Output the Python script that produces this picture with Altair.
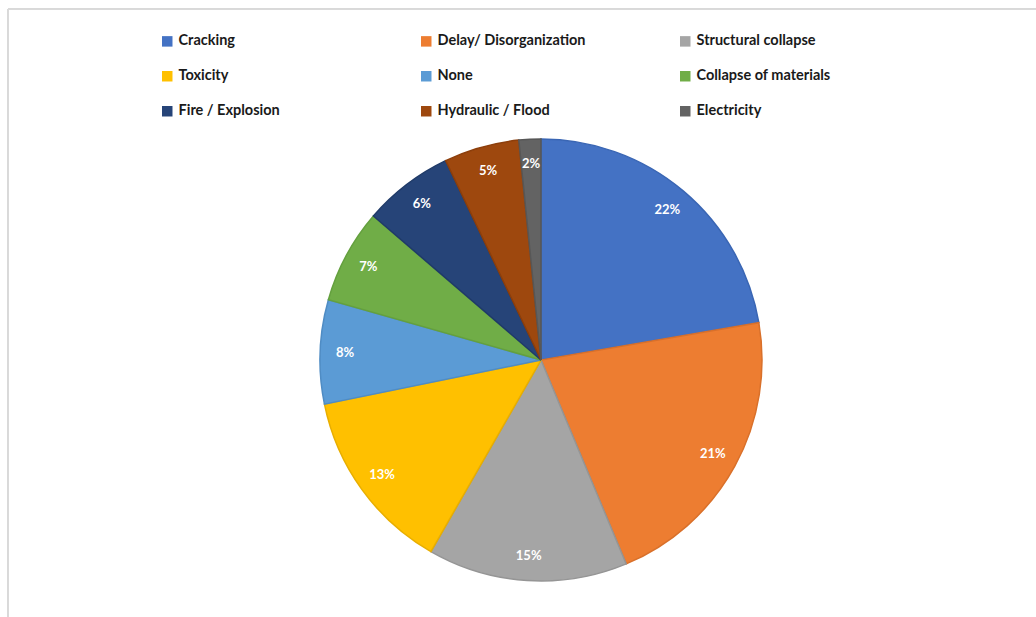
import altair as alt
import pandas as pd

categories = ["Cracking", "Delay/ Disorganization", "Structural collapse",
              "Toxicity", "None", "Collapse of materials",
              "Fire / Explosion", "Hydraulic / Flood", "Electricity"]
shares = [22.3, 21.4, 14.6, 13.5, 7.6, 6.9, 6.6, 5.5, 1.6]
labels = ["22%", "21%", "15%", "13%", "8%", "7%", "6%", "5%", "2%"]
colors = ["#4472C4", "#ED7D31", "#A5A5A5", "#FFC000", "#5B9BD5",
          "#70AD47", "#264478", "#9E480E", "#636363"]
edges = ["#3A66B4", "#D9702A", "#959595", "#E8AE00", "#4F8CC4",
         "#64A03E", "#1F3A68", "#8C3E0B", "#575757"]

df = pd.DataFrame({"cat": categories, "share": shares, "label": labels,
                   "order": list(range(len(categories)))})

# legend fills column by column; reorder so it reads row by row like the original
legend_idx = [0, 3, 6, 1, 4, 7, 2, 5, 8]
leg_domain = [categories[i] for i in legend_idx]
leg_colors = [colors[i] for i in legend_idx]
leg_edges = [edges[i] for i in legend_idx]

W, H = 1028, 608
cx, cy = 533, 351

base = alt.Chart(df).encode(
    theta=alt.Theta("share:Q", stack=True),
    order=alt.Order("order:Q"),
)

pie = base.mark_arc(radius=221, strokeWidth=1.5).encode(
    x=alt.value(cx), y=alt.value(cy),
    color=alt.Color("cat:N", scale=alt.Scale(domain=leg_domain, range=leg_colors),
                    legend=alt.Legend(
                        title=None, orient="none", legendX=152, legendY=25,
                        columns=3, gridAlign="all", columnPadding=92,
                        rowPadding=20, symbolType="square", symbolSize=110,
                        symbolStrokeWidth=0, labelFont="Lato",
                        labelFontWeight="bold", labelFontSize=14.5,
                        labelColor="#1a1a1a", labelOffset=4, labelLimit=300,
                        padding=0)),
    stroke=alt.Stroke("cat:N", scale=alt.Scale(domain=leg_domain, range=leg_edges),
                      legend=None),
)

text = base.mark_text(radius=196, fontSize=13, fontWeight="bold",
                      font="Lato", color="white").encode(
    x=alt.value(cx), y=alt.value(cy),
    text="label:N",
)

frame_top = alt.Chart(df).mark_rule(color="#d9d9d9", strokeWidth=1).encode(
    x=alt.value(0), x2=alt.value(W), y=alt.value(0))
frame_left = alt.Chart(df).mark_rule(color="#d9d9d9", strokeWidth=1).encode(
    x=alt.value(0), y=alt.value(0), y2=alt.value(H))

chart = (frame_top + frame_left + pie + text).properties(
    width=W, height=H,
    autosize=alt.AutoSizeParams(type="none"),
    padding={"left": 8, "top": 9, "right": 0, "bottom": 0},
).configure_view(stroke=None)

chart.save("out.html", embed_options={"renderer": "svg", "actions": False})
